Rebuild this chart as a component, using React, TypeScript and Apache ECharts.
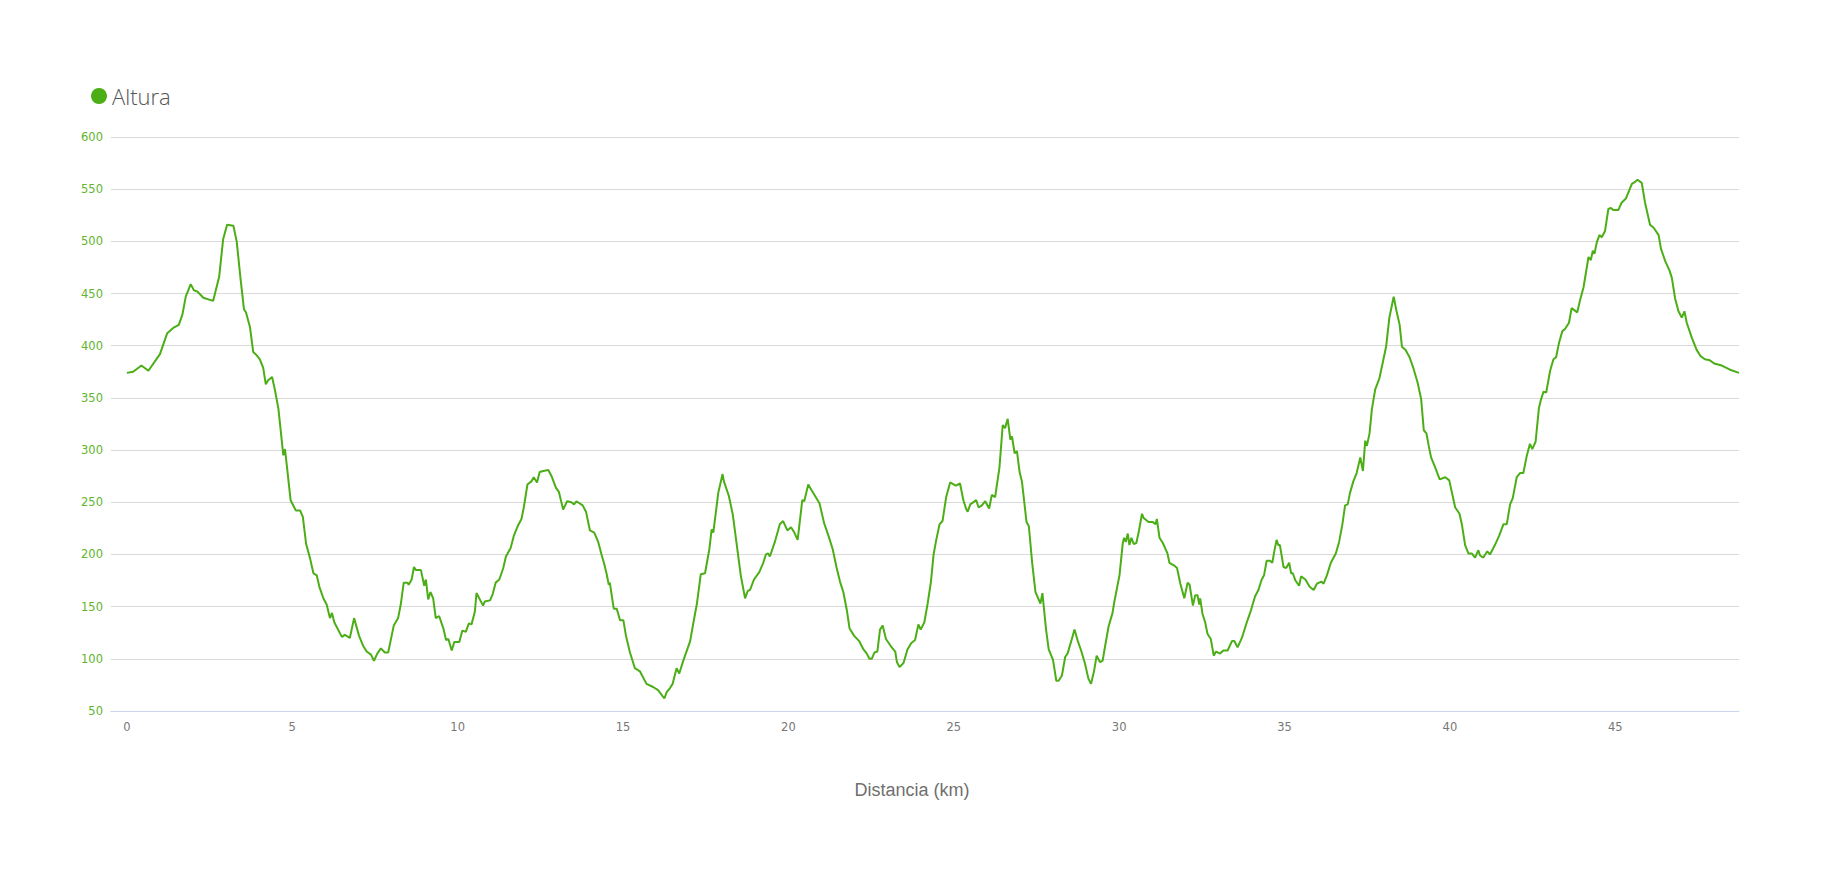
import { useEffect, useRef } from "react";
import * as echarts from "echarts";

const distanceKm = [
  0, 0.19, 0.44, 0.65, 1.0, 1.22, 1.4, 1.57, 1.68, 1.78, 1.93, 2.03, 2.13, 2.31, 2.61, 2.79, 2.91, 3.03, 3.22, 3.32,
  3.44, 3.54, 3.6, 3.72, 3.82, 3.92, 4.02, 4.12, 4.2, 4.27, 4.39, 4.48, 4.58, 4.73, 4.78, 4.85, 4.95, 5.11, 5.24, 5.32,
  5.42, 5.54, 5.64, 5.74, 5.82, 5.94, 6.04, 6.14, 6.2, 6.27, 6.5, 6.59, 6.74, 6.87, 7.02, 7.15, 7.25, 7.38, 7.47, 7.57,
  7.68, 7.8, 7.9, 8.07, 8.2, 8.28, 8.37, 8.48, 8.52, 8.61, 8.68, 8.74, 8.89, 8.99, 9.04, 9.11, 9.18, 9.26, 9.34, 9.44,
  9.57, 9.65, 9.72, 9.82, 9.9, 10.05, 10.14, 10.25, 10.34, 10.42, 10.52, 10.57, 10.77, 10.82, 10.98, 11.06, 11.15, 11.26, 11.38, 11.46,
  11.6, 11.7, 11.83, 11.93, 12.0, 12.11, 12.23, 12.3, 12.4, 12.48, 12.59, 12.74, 12.84, 12.97, 13.06, 13.19, 13.31, 13.44, 13.52, 13.59,
  13.78, 13.88, 14.0, 14.13, 14.25, 14.35, 14.43, 14.5, 14.57, 14.6, 14.72, 14.81, 14.91, 15.01, 15.09, 15.21, 15.36, 15.51, 15.71, 15.91,
  16.06, 16.25, 16.32, 16.42, 16.5, 16.62, 16.7, 16.82, 17.03, 17.13, 17.23, 17.35, 17.48, 17.61, 17.68, 17.73, 17.88, 18.01, 18.05, 18.2,
  18.32, 18.44, 18.56, 18.69, 18.77, 18.84, 18.96, 19.12, 19.24, 19.32, 19.39, 19.44, 19.59, 19.74, 19.84, 19.97, 20.08, 20.18, 20.28, 20.42,
  20.48, 20.6, 20.71, 20.94, 21.08, 21.21, 21.34, 21.46, 21.56, 21.66, 21.77, 21.85, 21.99, 22.14, 22.27, 22.37, 22.45, 22.52, 22.6, 22.69,
  22.77, 22.85, 22.95, 23.1, 23.23, 23.28, 23.36, 23.48, 23.6, 23.71, 23.83, 23.93, 24.0, 24.11, 24.21, 24.31, 24.39, 24.47, 24.57, 24.66,
  24.77, 24.89, 25.06, 25.19, 25.29, 25.37, 25.42, 25.5, 25.68, 25.75, 25.85, 25.95, 26.07, 26.15, 26.25, 26.38, 26.48, 26.55, 26.63, 26.71,
  26.76, 26.84, 26.91, 26.99, 27.06, 27.2, 27.27, 27.37, 27.47, 27.62, 27.68, 27.79, 27.87, 28.0, 28.1, 28.17, 28.27, 28.37, 28.44, 28.57,
  28.65, 28.75, 28.85, 28.97, 29.07, 29.15, 29.24, 29.32, 29.42, 29.5, 29.58, 29.68, 29.8, 29.85, 30.01, 30.11, 30.15, 30.2, 30.26, 30.31,
  30.37, 30.44, 30.52, 30.6, 30.69, 30.74, 30.89, 31.02, 31.1, 31.14, 31.22, 31.32, 31.46, 31.52, 31.68, 31.75, 31.85, 31.97, 32.07, 32.13,
  32.23, 32.3, 32.37, 32.42, 32.45, 32.52, 32.6, 32.67, 32.77, 32.86, 32.93, 33.05, 33.15, 33.28, 33.41, 33.48, 33.58, 33.71, 33.86, 33.98,
  34.11, 34.21, 34.31, 34.38, 34.46, 34.56, 34.63, 34.69, 34.76, 34.81, 34.86, 34.97, 35.05, 35.14, 35.2, 35.25, 35.33, 35.44, 35.5, 35.63,
  35.76, 35.88, 35.98, 36.11, 36.18, 36.28, 36.4, 36.55, 36.65, 36.75, 36.83, 36.91, 36.98, 37.08, 37.18, 37.29, 37.37, 37.44, 37.49, 37.57,
  37.64, 37.74, 37.87, 37.97, 38.07, 38.17, 38.3, 38.38, 38.48, 38.55, 38.66, 38.78, 38.9, 39.02, 39.13, 39.21, 39.29, 39.36, 39.43, 39.56,
  39.69, 39.86, 39.98, 40.16, 40.29, 40.36, 40.46, 40.56, 40.66, 40.76, 40.86, 40.91, 41.01, 41.13, 41.21, 41.36, 41.49, 41.62, 41.72, 41.82,
  41.9, 42.02, 42.12, 42.22, 42.32, 42.42, 42.49, 42.59, 42.69, 42.75, 42.83, 42.91, 43.03, 43.13, 43.21, 43.3, 43.4, 43.48, 43.6, 43.68,
  43.85, 43.93, 44.04, 44.19, 44.26, 44.32, 44.37, 44.44, 44.52, 44.59, 44.69, 44.79, 44.87, 44.94, 45.09, 45.19, 45.32, 45.5, 45.6, 45.67,
  45.8, 45.9, 46.05, 46.16, 46.31, 46.38, 46.51, 46.64, 46.71, 46.81, 46.91, 47.01, 47.09, 47.16, 47.31, 47.46, 47.58, 47.71, 47.86, 47.99,
  48.22, 48.47, 48.74,
];

const elevationM = [
  374, 375, 381, 376, 392, 412, 417, 420, 430, 447, 459, 453, 452, 446, 443, 466, 502, 516, 515, 500,
  463, 435, 432, 418, 394, 391, 387, 379, 363, 367, 370, 357, 340, 295, 301, 281, 252, 242, 242, 236,
  210, 196, 182, 180, 169, 158, 152, 139, 144, 135, 121, 123, 120, 139, 122, 112, 107, 104, 98, 105,
  110, 106, 106, 132, 139, 152, 173, 173, 171, 176, 188, 185, 185, 170, 176, 157, 164, 158, 139, 141,
  129, 118, 119, 108, 116, 116, 127, 126, 134, 133, 145, 163, 151, 155, 156, 162, 173, 176, 187, 198,
  206, 218, 228, 234, 245, 267, 270, 274, 269, 279, 280, 281, 275, 264, 260, 243, 251, 250, 248, 251,
  247, 241, 223, 221, 212, 200, 191, 182, 171, 173, 148, 148, 137, 137, 122, 106, 91, 88, 76, 73,
  70, 62, 68, 72, 76, 91, 86, 98, 117, 135, 152, 181, 182, 205, 224, 221, 259, 277, 270, 256,
  238, 209, 180, 158, 165, 166, 176, 183, 192, 200, 201, 198, 212, 229, 232, 223, 226, 221, 214, 252,
  251, 267, 261, 249, 230, 218, 205, 187, 174, 164, 146, 129, 122, 117, 109, 105, 100, 100, 106, 107,
  128, 132, 119, 112, 107, 97, 92, 96, 109, 115, 118, 133, 128, 135, 153, 174, 200, 214, 229, 232,
  255, 269, 266, 268, 252, 244, 241, 248, 252, 245, 247, 251, 244, 257, 255, 283, 324, 321, 330, 310,
  313, 297, 299, 279, 270, 231, 227, 192, 164, 153, 163, 128, 109, 99, 79, 79, 84, 102, 105, 119,
  128, 117, 108, 95, 81, 76, 88, 103, 97, 98, 113, 131, 144, 154, 180, 211, 216, 212, 220, 209,
  216, 210, 211, 223, 239, 235, 231, 231, 229, 234, 216, 211, 201, 192, 189, 187, 172, 158, 173, 171,
  151, 161, 161, 152, 158, 143, 135, 124, 119, 103, 107, 105, 108, 108, 117, 117, 111, 120, 135, 146,
  160, 166, 176, 180, 194, 194, 192, 203, 214, 209, 209, 188, 187, 192, 182, 182, 175, 170, 179, 176,
  169, 166, 172, 174, 172, 180, 192, 201, 212, 229, 247, 248, 259, 270, 278, 293, 280, 309, 304, 316,
  339, 358, 369, 384, 399, 427, 447, 434, 420, 399, 396, 389, 378, 365, 349, 319, 316, 304, 293, 283,
  272, 274, 271, 245, 239, 229, 209, 201, 201, 197, 204, 199, 197, 203, 200, 209, 218, 229, 229, 248,
  254, 274, 278, 278, 294, 306, 301, 308, 340, 348, 356, 355, 376, 387, 389, 403, 414, 416, 422, 436,
  432, 443, 456, 485, 482, 491, 488, 499, 506, 504, 510, 531, 532, 530, 530, 537, 541, 555, 557, 559,
  556, 537, 516, 513, 506, 493, 481, 472, 465, 445, 433, 427, 433, 422, 408, 396, 390, 387, 386, 383,
  381, 377, 374,
];

const xTickLabels = [0, 5, 10, 15, 20, 25, 30, 35, 40, 45];
const seriesName = "Altura";
const axisTitle = "Distancia (km)";

const GREEN = "#4cae17";

export default function App() {
  const ref = useRef<HTMLDivElement | null>(null);

  useEffect(() => {
    if (!ref.current) return;
    const chart = echarts.init(ref.current, undefined, { renderer: "svg" });

    const data = distanceKm.map((d, i) => [d, elevationM[i]]);

    chart.setOption({
      animation: false,
      backgroundColor: "#ffffff",
      legend: {
        data: [seriesName],
        left: 91,
        top: 85,
        padding: 0,
        icon: "circle",
        itemWidth: 16,
        itemHeight: 16,
        itemGap: 10,
        textStyle: {
          fontFamily: "Open Sans",
          fontWeight: 300,
          fontSize: 22,
          color: "#555555",
          padding: [0, 0, 0, 0],
        },
      },
      graphic: [
        {
          type: "text",
          left: "center",
          top: 781,
          style: {
            text: axisTitle,
            fontFamily: "Liberation Sans",
            fontSize: 18,
            fill: "#6f6f6f",
          },
        },
      ],
      grid: {
        left: 111,
        right: 85,
        top: 137,
        bottom: 160,
        containLabel: false,
        outerBoundsMode: "none",
      },
      xAxis: {
        type: "value",
        min: -0.48,
        max: 48.74,
        axisLine: { show: true, lineStyle: { color: "#ccd6eb", width: 1 } },
        axisTick: { show: false },
        splitLine: { show: false },
        axisLabel: {
          customValues: xTickLabels,
          color: "#777777",
          fontFamily: "DejaVu Sans",
          fontSize: 11.5,
          margin: 10,
        },
      },
      yAxis: {
        type: "value",
        min: 50,
        max: 600,
        interval: 50,
        axisLine: { show: false },
        axisTick: { show: false },
        splitLine: { lineStyle: { color: "#dadada", width: 1 } },
        axisLabel: {
          color: "#5fb52c",
          fontFamily: "DejaVu Sans",
          fontSize: 11.5,
          margin: 8,
        },
      },
      series: [
        {
          name: seriesName,
          type: "line",
          data,
          showSymbol: false,
          symbol: "circle",
          itemStyle: { color: GREEN },
          lineStyle: { color: GREEN, width: 2 },
        },
      ],
    });

    return () => {
      chart.dispose();
    };
  }, []);

  return (
    <div
      ref={ref}
      style={{ position: "fixed", left: 0, top: 0, width: 1824, height: 871, background: "#fff" }}
    />
  );
}
